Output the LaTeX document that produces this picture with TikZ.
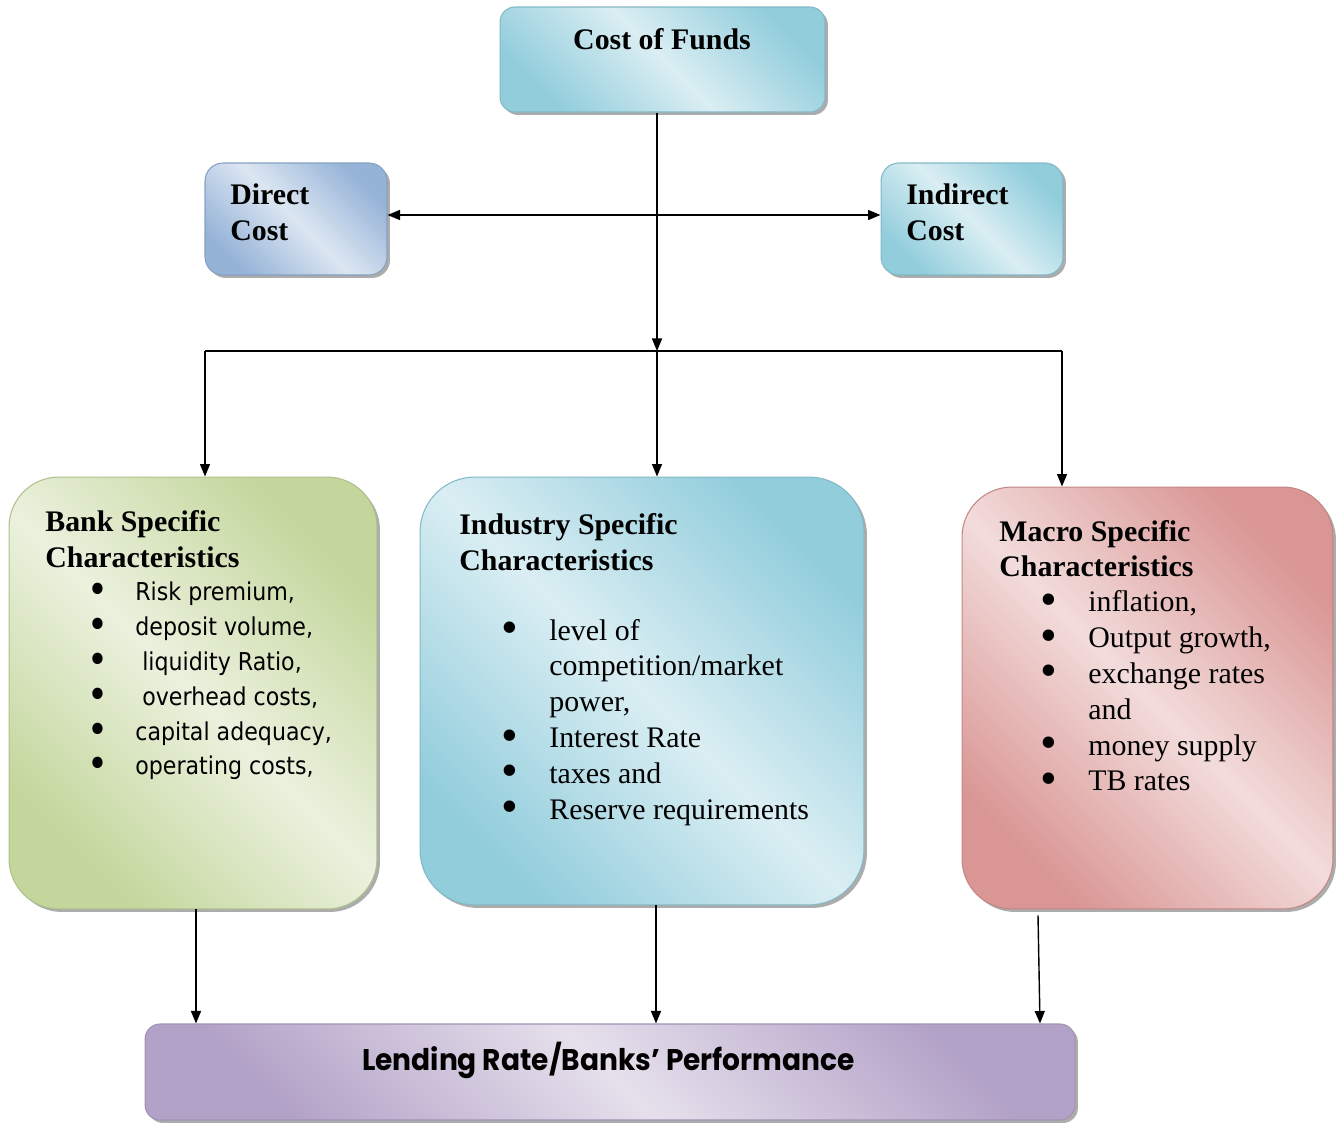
\documentclass[tikz,border=0pt]{standalone}
\usepackage{xcolor}
\usepackage{fontspec}
\setmainfont{Liberation Serif}
\newfontfamily\tahomafont[FakeStretch=0.9]{DejaVu Sans}
\newfontfamily\gothicfont[FakeStretch=0.94]{Poppins}
\usepackage{tikz}
\usetikzlibrary{arrows.meta, positioning, shadows}

\definecolor{tealD}{HTML}{92CDDC}
\definecolor{tealL}{HTML}{DAEEF3}
\definecolor{blueD}{HTML}{95B3D7}
\definecolor{blueL}{HTML}{DCE6F2}
\definecolor{greenD}{HTML}{C3D69B}
\definecolor{greenL}{HTML}{EBF1DE}
\definecolor{redD}{HTML}{D99694}
\definecolor{redL}{HTML}{F2DCDB}
\definecolor{purpleD}{HTML}{B3A2C7}
\definecolor{purpleL}{HTML}{E6E0EC}

\newcommand{\listbullet}{\hspace{-0.07cm}\smash{\raisebox{-0.12em}{\scalebox{1.6}{\textbullet}}}}

\begin{document}
\begin{tikzpicture}[x=0.02cm, y=-0.02cm,
    shadebox/.style 2 args={draw=#1!90!black, line width=0.6pt,
        top color=#1, bottom color=#1, middle color=#2, shading angle=-45,
        drop shadow={shadow xshift=0.06cm, shadow yshift=-0.06cm, fill=gray!65, opacity=1}},
    headtext/.style={inner sep=0pt, font=\fontsize{17}{20}\selectfont\bfseries},
    listtext/.style={inner sep=0pt, font=\fontsize{17}{20.4}\selectfont},
    sanslist/.style={inner sep=0pt, font=\tahomafont\fontsize{14}{19.8}\selectfont},
    conn/.style={line width=0.8pt},
    arr/.style={conn, -{Triangle[length=0.25cm, width=0.2cm]}},
    twoarr/.style={conn, {Triangle[length=0.25cm, width=0.2cm]}-{Triangle[length=0.25cm, width=0.2cm]}}]
        \useasboundingbox (0,0) rectangle (1338,1124);

        % Cost of funds
        \node[shadebox={tealD}{tealL}, rounded corners=0.3cm, minimum width=6.5cm, minimum height=2.1cm] (funds) at (662.5,59.5) {};
        \node[headtext, anchor=base] (fundstext) at (662,50) {Cost of Funds};

        % Direct and indirect cost
        \node[shadebox={blueD}{blueL}, rounded corners=0.36cm, minimum width=3.64cm, minimum height=2.24cm] (direct) at (296,219) {};
        \node[headtext, anchor=base west] (directtext) at (230,205) {%
            \begin{tabular}[t]{@{}l@{}}
                Direct \\
                Cost
            \end{tabular}};

        \node[shadebox={tealD}{tealL}, rounded corners=0.36cm, minimum width=3.64cm, minimum height=2.24cm] (indirect) at (972,219) {};
        \node[headtext, anchor=base west] (indirecttext) at (906,205) {%
            \begin{tabular}[t]{@{}l@{}}
                Indirect \\
                Cost
            \end{tabular}};

        % Bank specific
        \node[shadebox={greenD}{greenL}, rounded corners=1cm, minimum width=7.36cm, minimum height=8.64cm] (bank) at (193,693) {};
        \node[headtext, anchor=base west] (bankhead) at (45,532) {%
            \begin{tabular}[t]{@{}l@{}}
                Bank Specific \\
                Characteristics
            \end{tabular}};
        \node[sanslist, anchor=base west] (banklist) at (91,601) {%
            \begin{tabular}[t]{@{}p{0.88cm}@{}l@{}}
                \listbullet & Risk premium, \\
                \listbullet & deposit volume, \\
                \listbullet & \hspace{0.14cm}liquidity Ratio, \\
                \listbullet & \hspace{0.14cm}overhead costs, \\
                \listbullet & capital adequacy, \\
                \listbullet & operating costs,
            \end{tabular}};

        % Industry specific
        \node[shadebox={tealD}{tealL}, rounded corners=1.1cm, minimum width=8.88cm, minimum height=8.56cm] (industry) at (642,691) {};
        \node[headtext, anchor=base west] (industryhead) at (459,535) {%
            \begin{tabular}[t]{@{}l@{}}
                Industry Specific \\
                Characteristics
            \end{tabular}};
        \node[listtext, anchor=base west] (industrylist) at (505,640) {%
            \begin{tabular}[t]{@{}p{0.88cm}@{}l@{}}
                \listbullet & level of \\
                            & competition/market \\
                            & power, \\
                \listbullet & Interest Rate \\
                \listbullet & taxes and \\
                \listbullet & Reserve requirements
            \end{tabular}};

        % Macro specific
        \node[shadebox={redD}{redL}, rounded corners=1cm, minimum width=7.42cm, minimum height=8.44cm] (macro) at (1147.5,698) {};
        \node[headtext, anchor=base west] (macrohead) at (999,541.7) {%
            \begin{tabular}[t]{@{}l@{}}
                Macro Specific \\
                Characteristics
            \end{tabular}};
        \node[listtext, anchor=base west] (macrolist) at (1044,611.7) {%
            \begin{tabular}[t]{@{}p{0.88cm}@{}l@{}}
                \listbullet & inflation, \\
                \listbullet & Output growth, \\
                \listbullet & exchange rates \\
                            & and \\
                \listbullet & money supply \\
                \listbullet & TB rates
            \end{tabular}};

        % Lending rate
        \node[shadebox={purpleD}{purpleL}, rounded corners=0.3cm, minimum width=18.6cm, minimum height=1.92cm] (lending) at (610,1072) {};
        \node[inner sep=0pt, anchor=base, font=\gothicfont\bfseries\fontsize{17}{20}\selectfont] (lendingtext) at (608.5,1070) {Lending Rate/Banks’ Performance};

        % Relationships
        \coordinate (split) at (657,351);
        \coordinate (lsplit) at (205,351);
        \coordinate (rsplit) at (1062,351);
        \draw[twoarr] ([yshift=0.08cm]direct.east) -- ([yshift=0.08cm]indirect.west);
        \draw[arr] (funds.south -| split) -- (split);
        \draw[conn] (lsplit) -- (rsplit);
        \draw[arr] (lsplit) -- (lsplit |- bank.north);
        \draw[arr] (split) -- (split |- industry.north);
        \draw[arr] (rsplit) -- (rsplit |- macro.north);

        \coordinate (bankout) at ([xshift=0.06cm]bank.south);
        \coordinate (industryout) at ([xshift=0.28cm]industry.south);
        \coordinate (macroout) at ([shift={(-109.5,6)}]macro.south);
        \coordinate (macroin) at ([shift={(-107.5,0)}]macro.south);
        \draw[arr] (bankout) -- (bankout |- lending.north);
        \draw[arr] (industryout) -- (industryout |- lending.north);
        \draw[arr] (macroout) -- (macroin |- lending.north);
    \end{tikzpicture}
\end{document}
